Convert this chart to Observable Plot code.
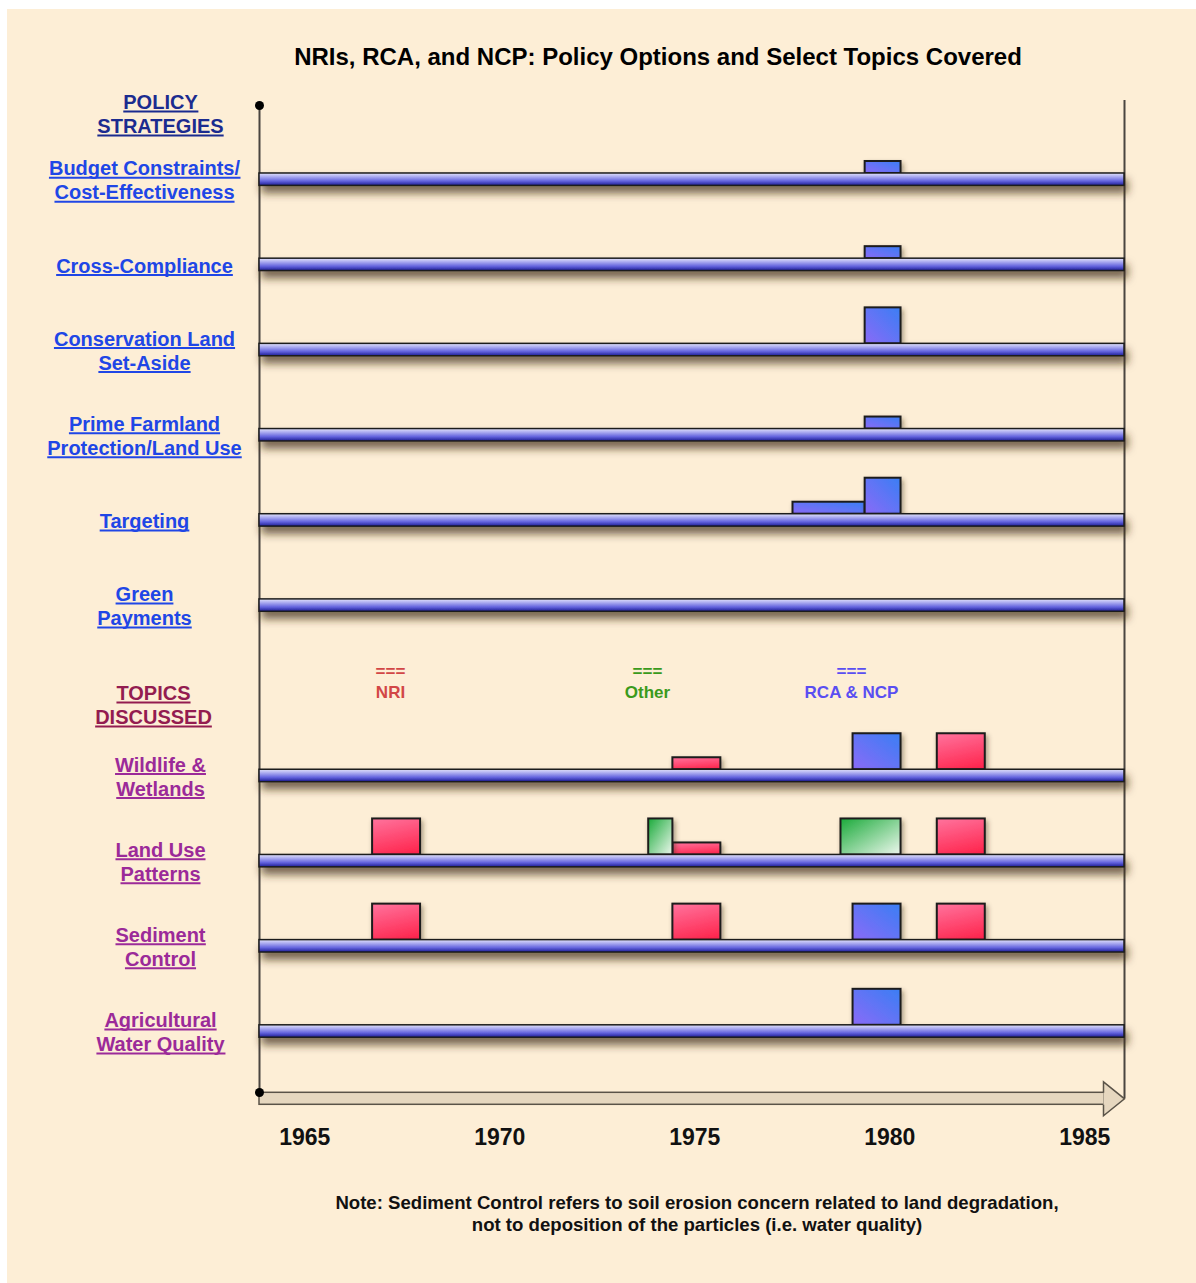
<!DOCTYPE html>
<html>
<head>
<meta charset="utf-8">
<script src="https://cdn.jsdelivr.net/npm/d3@7"></script>
<script src="https://cdn.jsdelivr.net/npm/@observablehq/plot@0.6"></script>
<style>
html,body{margin:0;padding:0;background:#fff;}
#panel{position:absolute;left:7px;top:9px;width:1189px;height:1274px;background:#fdeed6;font-family:"Liberation Sans",Arial,Helvetica,sans-serif;}
#title{position:absolute;left:151px;width:1000px;top:34px;text-align:center;font-weight:bold;font-size:24px;line-height:28px;color:#000;}
#chart{position:absolute;left:0;top:76px;}
#note{position:absolute;left:190px;width:1000px;top:1183px;text-align:center;font-weight:bold;font-size:18.6px;line-height:22px;color:#111;}
</style>
</head>
<body>
<div id="panel">
  <div id="title">NRIs, RCA, and NCP: Policy Options and Select Topics Covered</div>
  <div id="chart"></div>
  <div id="note">Note: Sediment Control refers to soil erosion concern related to land degradation,<br>not to deposition of the particles (i.e. water quality)</div>
</div>
<script>
// ---------- data ----------
const policyRows = ["Budget Constraints/\nCost-Effectiveness", "Cross-Compliance", "Conservation Land\nSet-Aside", "Prime Farmland\nProtection/Land Use", "Targeting", "Green\nPayments"];
const topicRows = ["Wildlife &\nWetlands", "Land Use\nPatterns", "Sediment\nControl", "Agricultural\nWater Quality"];
const groupHeaders = ["POLICY\nSTRATEGIES", "TOPICS\nDISCUSSED"];
const series = ["NRI", "Other", "RCA & NCP"];
const yearTicks = [1965, 1970, 1975, 1980, 1985];
const yearRange = [1963.84, 1986.02];

// coverage spans: row, series, start year, end year, depth level (1 = brief, 3 = major)
const spanRow = [
  "Budget Constraints/\nCost-Effectiveness", "Cross-Compliance", "Conservation Land\nSet-Aside", "Prime Farmland\nProtection/Land Use", "Targeting", "Targeting",
  "Wildlife &\nWetlands", "Wildlife &\nWetlands", "Wildlife &\nWetlands",
  "Land Use\nPatterns", "Land Use\nPatterns", "Land Use\nPatterns", "Land Use\nPatterns", "Land Use\nPatterns",
  "Sediment\nControl", "Sediment\nControl", "Sediment\nControl", "Sediment\nControl",
  "Agricultural\nWater Quality"
];
const spanSeries = [
  "RCA & NCP", "RCA & NCP", "RCA & NCP", "RCA & NCP", "RCA & NCP", "RCA & NCP",
  "NRI", "RCA & NCP", "NRI",
  "NRI", "Other", "NRI", "Other", "NRI",
  "NRI", "NRI", "RCA & NCP", "NRI",
  "RCA & NCP"
];
const spanStart = [1979.37, 1979.37, 1979.37, 1979.37, 1977.52, 1979.37,
  1974.44, 1979.06, 1981.22,
  1966.74, 1973.82, 1974.44, 1978.75, 1981.22,
  1966.74, 1974.44, 1979.06, 1981.22,
  1979.06];
const spanEnd = [1980.29, 1980.29, 1980.29, 1980.29, 1979.37, 1980.29,
  1975.67, 1980.29, 1982.45,
  1967.97, 1974.44, 1975.67, 1980.29, 1982.45,
  1967.97, 1975.67, 1980.29, 1982.45,
  1980.29];
const spanLevel = [1, 1, 3, 1, 1, 3,
  1, 3, 3,
  3, 3, 1, 3, 3,
  3, 3, 3, 3,
  3];

// ---------- layout / style ----------
const W = 1189, H = 1090, mT = 51.6, mB = 101.4, mL = 252, mR = 72;
const spacer = " ";
const yDomain = [...policyRows, spacer, ...topicRows];
const step = (H - mT - mB) / yDomain.length;
const half = step / 2;
const trackHalf = 6.2;
const unitPx = 12;
const frameH = H - mT - mB;
const font = "'Liberation Sans', Arial, Helvetica, sans-serif";
const labelColors = {policy: "#2046e6", topic: "#9b2a99", policyHead: "#1b2b8f", topicHead: "#931c50"};

const spans = spanRow.map((row, i) => ({row, series: spanSeries[i], start: spanStart[i], end: spanEnd[i], level: spanLevel[i]}));

const arrowHead = {
  draw(ctx) {
    ctx.moveTo(-21, -6);
    ctx.lineTo(-21, -17);
    ctx.lineTo(0, 0);
    ctx.lineTo(-21, 17);
    ctx.lineTo(-21, 6);
  }
};

const boxMarks = [1, 3].map(lv => Plot.barX(spans.filter(d => d.level === lv), {
  x1: "start", x2: "end", y: "row", fill: "series",
  stroke: "#1c1c1c", strokeWidth: 2,
  insetBottom: half + trackHalf,
  insetTop: step - (half + trackHalf) - lv * unitPx
}));

const legendColors = ["#d24646", "#3a9a1c", "#5a4ef2"];
const legendDx = [131, 388, 592];

const labelStyle = {frameAnchor: "left", textAnchor: "middle", fontSize: 20, fontWeight: "bold", lineHeight: 1.2};

const chart = Plot.plot({
  width: W, height: H,
  marginTop: mT, marginBottom: mB, marginLeft: mL, marginRight: mR,
  style: {background: "transparent", fontFamily: font, overflow: "visible"},
  x: {domain: yearRange, axis: null},
  y: {type: "band", domain: yDomain, padding: 0, round: false, axis: null},
  color: {type: "ordinal", domain: series, range: ["url(#gNRI)", "url(#gOther)", "url(#gRCA)"]},
  marks: [
    // frame verticals
    Plot.ruleX([yearRange[0]], {x: d => d, stroke: "#4a4540", strokeWidth: 2, insetTop: -31.6, insetBottom: -18.7}),
    Plot.ruleX([yearRange[1]], {x: d => d, stroke: "#4a4540", strokeWidth: 2, insetTop: -36.6, insetBottom: -24.4}),
    // time arrow
    Plot.barX([yearRange], {x1: d => d[0], x2: d => d[1], fill: "#e6d7bf", stroke: "#5a5348", strokeWidth: 1.5,
      insetTop: 955.7, insetBottom: frameH - 955.7 - 12, insetRight: 20}),
    Plot.dot([yearRange[1]], {x: d => d, frameAnchor: "bottom", dy: 24.7, symbol: arrowHead, r: 5,
      fill: "#e6d7bf", stroke: "#5a5348", strokeWidth: 1.5}),
    Plot.dot([yearRange[0]], {x: d => d, frameAnchor: "top", dy: -31.6, r: 4.5, fill: "#000"}),
    Plot.dot([yearRange[0]], {x: d => d, frameAnchor: "bottom", dy: 18.4, r: 4.5, fill: "#000"}),
    // coverage boxes
    ...boxMarks,
    // row tracks
    Plot.barX([...policyRows, ...topicRows], {
      x1: () => yearRange[0], x2: () => yearRange[1], y: d => d,
      fill: "url(#gTrack)", stroke: "#1c1c1c", strokeWidth: 1.5,
      insetTop: half - trackHalf, insetBottom: half - trackHalf
    }),
    // row labels
    Plot.text(policyRows, {y: d => d, text: d => d, dx: -115, fill: labelColors.policy, ...labelStyle}),
    Plot.text(topicRows, {y: d => d, text: d => d, dx: -99, fill: labelColors.topic, ...labelStyle}),
    Plot.text([groupHeaders[0]], {y: () => policyRows[0], text: d => d, dx: -99, dy: -66.2, fill: labelColors.policyHead, ...labelStyle}),
    Plot.text([groupHeaders[1]], {y: () => spacer, text: d => d, dx: -106, dy: 13.7, fill: labelColors.topicHead, ...labelStyle}),
    // legend
    ...series.map((s, i) => Plot.text([s], {y: () => spacer, text: d => "===\n" + d, frameAnchor: "left",
      dx: legendDx[i], dy: -10, textAnchor: "middle", fill: legendColors[i], fontSize: 17, fontWeight: "bold", lineHeight: 1.2})),
    // year labels
    Plot.text(yearTicks, {x: d => d, text: d => String(d), frameAnchor: "bottom", dy: 70.4,
      fill: "#111", fontSize: 23, fontWeight: "bold"})
  ]
});

const svg = chart.tagName.toLowerCase() === "svg" ? chart : chart.querySelector("svg");
const sel = d3.select(svg);
sel.insert("defs", ":first-child").html(`
  <linearGradient id="gTrack" x1="0" y1="0" x2="0" y2="1">
    <stop offset="0" stop-color="#e4e4fb"/>
    <stop offset="0.3" stop-color="#aaaaf0"/>
    <stop offset="0.65" stop-color="#6464de"/>
    <stop offset="1" stop-color="#1c1c94"/>
  </linearGradient>
  <linearGradient id="gRCA" x1="0" y1="1" x2="1" y2="0">
    <stop offset="0" stop-color="#8a6af7"/>
    <stop offset="1" stop-color="#3a7ef4"/>
  </linearGradient>
  <linearGradient id="gNRI" x1="0.3" y1="0" x2="0.6" y2="1">
    <stop offset="0" stop-color="#ff6e98"/>
    <stop offset="1" stop-color="#ff2850"/>
  </linearGradient>
  <linearGradient id="gOther" x1="0" y1="0" x2="1" y2="1">
    <stop offset="0" stop-color="#1aaa3a"/>
    <stop offset="1" stop-color="#eef8ee"/>
  </linearGradient>
  <filter id="trackShadow" filterUnits="userSpaceOnUse" x="0" y="0" width="${W}" height="${H}">
    <feDropShadow dx="3" dy="7" stdDeviation="4" flood-color="#3a2a12" flood-opacity="0.7"/>
  </filter>
  <filter id="boxShadow" filterUnits="userSpaceOnUse" x="0" y="0" width="${W}" height="${H}">
    <feDropShadow dx="2" dy="3" stdDeviation="2.5" flood-color="#3a2a12" flood-opacity="0.45"/>
  </filter>`);
// shadows: track group (constant gradient fill) and box groups (gradient fills per rect)
sel.selectAll("g").filter(function () { return this.getAttribute("fill") === "url(#gTrack)"; })
  .attr("filter", "url(#trackShadow)");
const boxGroups = new Set();
sel.selectAll("rect").each(function () {
  const f = this.getAttribute("fill") || "";
  if (/url\(#g(NRI|Other|RCA)\)/.test(f)) boxGroups.add(this.parentNode);
});
boxGroups.forEach(g => g.setAttribute("filter", "url(#boxShadow)"));

document.getElementById("chart").appendChild(chart);

// underline the row / group labels
const labelFills = new Set(Object.values(labelColors));
sel.selectAll("g").filter(function () { return labelFills.has(this.getAttribute("fill")); }).each(function () {
  const g = this;
  const color = g.getAttribute("fill");
  d3.select(g).selectAll("text").each(function () {
    const t = this;
    const parts = t.querySelectorAll("tspan").length ? Array.from(t.querySelectorAll("tspan")) : [t];
    parts.forEach(p => {
      const b = p.getBBox();
      const base = b.y + 0.905 / 1.117 * b.height;
      const ctm = t.getAttribute("transform");
      const line = document.createElementNS("http://www.w3.org/2000/svg", "line");
      line.setAttribute("x1", b.x);
      line.setAttribute("x2", b.x + b.width);
      line.setAttribute("y1", base + 2.5);
      line.setAttribute("y2", base + 2.5);
      line.setAttribute("stroke", color);
      line.setAttribute("stroke-width", 2);
      if (ctm) line.setAttribute("transform", ctm);
      g.appendChild(line);
    });
  });
});
</script>
</body>
</html>
